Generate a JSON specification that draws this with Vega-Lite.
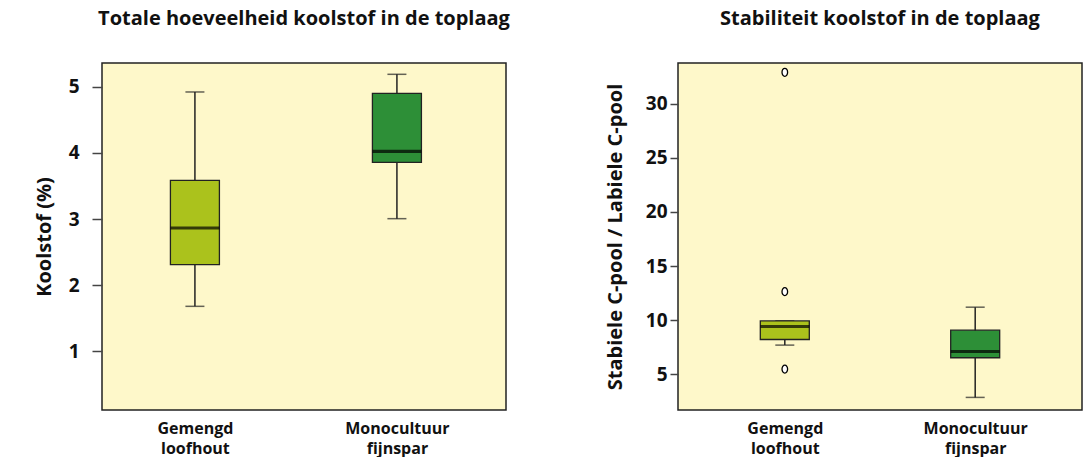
{
  "$schema": "https://vega.github.io/schema/vega-lite/v6.json",
  "padding": {"left": 33, "top": 8, "right": 0, "bottom": 0},
  "background": "white",
  "spacing": 172,
  "bounds": "flush",
  "config": {
    "font": "Open Sans",
    "view": {"fill": "#fef8ca", "stroke": "#222222", "strokeWidth": 1.5},
    "axis": {
      "labelFont": "Open Sans", "labelFontWeight": "bold", "labelColor": "#111111",
      "titleFont": "Open Sans", "titleFontWeight": "bold", "titleColor": "#111111",
      "grid": false, "domain": false
    },
    "title": {"font": "Open Sans", "fontSize": 20, "fontWeight": "bold", "color": "#111111", "baseline": "alphabetic", "offset": 34, "anchor": "middle"}
  },
  "datasets": {
    "carbon": [
      {"group": "Gemengd loofhout", "lower": 1.68, "q1": 2.31, "median": 2.864, "q3": 3.585, "upper": 4.92},
      {"group": "Monocultuur fijnspar", "lower": 3.005, "q1": 3.857, "median": 4.023, "q3": 4.9, "upper": 5.187}
    ],
    "ratio": [
      {"group": "Gemengd loofhout", "lower": 7.68, "q1": 8.2, "median": 9.4, "q3": 9.92, "upper": 9.92},
      {"group": "Monocultuur fijnspar", "lower": 2.84, "q1": 6.51, "median": 7.09, "q3": 9.06, "upper": 11.19}
    ],
    "ratioOut": [
      {"group": "Gemengd loofhout", "value": 32.93},
      {"group": "Gemengd loofhout", "value": 12.63},
      {"group": "Gemengd loofhout", "value": 5.46}
    ]
  },
  "hconcat": [
    {
      "width": 404,
      "height": 347,
      "title": {"text": "Totale hoeveelheid koolstof in de toplaag"},
      "data": {"name": "carbon"},
      "encoding": {
        "x": {
          "field": "group", "type": "nominal", "sort": null,
          "scale": {"type": "point", "padding": 0.5, "align": 0.46},
          "axis": {"title": null, "labelAngle": 0, "ticks": false, "labelExpr": "split(datum.label, ' ')", "labelFontSize": 16, "labelLineHeight": 20, "labelPadding": 10, "labelBaseline": "top"}
        }
      },
      "layer": [
        {
          "mark": {"type": "rule", "color": "#222222", "strokeWidth": 1.5},
          "encoding": {
            "y": {
              "field": "lower", "type": "quantitative",
              "scale": {"domain": [0.113, 5.358], "nice": false, "zero": false},
              "axis": {"values": [1, 2, 3, 4, 5], "format": "d", "tickSize": 10, "tickWidth": 1.5, "tickColor": "#444444", "labelFontSize": 19, "labelPadding": 13, "title": "Koolstof (%)", "titleFontSize": 20, "titlePadding": 14}
            },
            "y2": {"field": "upper"}
          }
        },
        {"mark": {"type": "tick", "size": 19, "thickness": 1.5, "color": "#222222"}, "encoding": {"y": {"field": "lower", "type": "quantitative"}}},
        {"mark": {"type": "tick", "size": 19, "thickness": 1.5, "color": "#222222"}, "encoding": {"y": {"field": "upper", "type": "quantitative"}}},
        {
          "mark": {"type": "bar", "size": 49, "stroke": "#222222", "strokeWidth": 1.3, "opacity": 1},
          "encoding": {
            "y": {"field": "q1", "type": "quantitative"},
            "y2": {"field": "q3"},
            "color": {"field": "group", "type": "nominal", "scale": {"domain": ["Gemengd loofhout", "Monocultuur fijnspar"], "range": ["#abc21c", "#2d8f37"]}, "legend": null}
          }
        },
        {"mark": {"type": "tick", "size": 49, "thickness": 3.2, "color": "#000000"}, "encoding": {"y": {"field": "median", "type": "quantitative"}}}
      ]
    },
    {
      "width": 404,
      "height": 347,
      "title": {"text": "Stabiliteit koolstof in de toplaag"},
      "encoding": {
        "x": {
          "field": "group", "type": "nominal", "sort": null,
          "scale": {"type": "point", "padding": 0.561, "align": 0.5, "domain": ["Gemengd loofhout", "Monocultuur fijnspar"]},
          "axis": {"title": null, "labelAngle": 0, "ticks": false, "labelExpr": "split(datum.label, ' ')", "labelFontSize": 16, "labelLineHeight": 20, "labelPadding": 10, "labelBaseline": "top"}
        }
      },
      "layer": [
        {
          "data": {"name": "ratio"},
          "mark": {"type": "rule", "color": "#222222", "strokeWidth": 1.5},
          "encoding": {
            "y": {
              "field": "lower", "type": "quantitative",
              "scale": {"domain": [1.674, 33.79], "nice": false, "zero": false},
              "axis": {"values": [5, 10, 15, 20, 25, 30], "format": "d", "tickSize": 8, "tickWidth": 1.5, "tickColor": "#444444", "labelFontSize": 19, "labelPadding": 3, "title": "Stabiele C-pool / Labiele C-pool", "titleFontSize": 20, "titlePadding": 20}
            },
            "y2": {"field": "upper"}
          }
        },
        {"data": {"name": "ratio"}, "mark": {"type": "tick", "size": 19, "thickness": 1.5, "color": "#222222"}, "encoding": {"y": {"field": "lower", "type": "quantitative"}}},
        {"data": {"name": "ratio"}, "mark": {"type": "tick", "size": 19, "thickness": 1.5, "color": "#222222"}, "encoding": {"y": {"field": "upper", "type": "quantitative"}}},
        {
          "data": {"name": "ratio"},
          "mark": {"type": "bar", "size": 49, "stroke": "#222222", "strokeWidth": 1.3, "opacity": 1},
          "encoding": {
            "y": {"field": "q1", "type": "quantitative"},
            "y2": {"field": "q3"},
            "color": {"field": "group", "type": "nominal", "scale": {"domain": ["Gemengd loofhout", "Monocultuur fijnspar"], "range": ["#abc21c", "#2d8f37"]}, "legend": null}
          }
        },
        {"data": {"name": "ratio"}, "mark": {"type": "tick", "size": 49, "thickness": 3.2, "color": "#000000"}, "encoding": {"y": {"field": "median", "type": "quantitative"}}},
        {
          "data": {"name": "ratioOut"},
          "mark": {"type": "point", "shape": "M0,-1 C0.4,-1 0.7,-0.552 0.7,0 C0.7,0.552 0.4,1 0,1 C-0.4,1 -0.7,0.552 -0.7,0 C-0.7,-0.552 -0.4,-1 0,-1 Z", "size": 64, "filled": true, "fill": "#ffffff", "stroke": "#000000", "strokeWidth": 1.3, "opacity": 1},
          "encoding": {"y": {"field": "value", "type": "quantitative"}}
        }
      ]
    }
  ]
}
